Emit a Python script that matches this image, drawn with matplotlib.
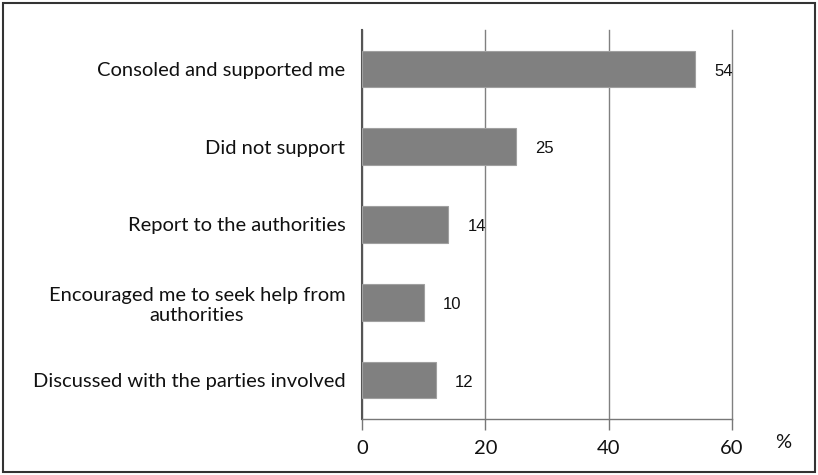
import matplotlib
matplotlib.use('Agg')
import matplotlib.pyplot as plt
from matplotlib.patches import Rectangle

# responses, top to bottom
categories = ['Consoled and supported me',
              'Did not support',
              'Report to the authorities',
              'Encouraged me to seek help from\nauthorities',
              'Discussed with the parties involved']
values = [54, 25, 14, 10, 12]
xticks = [0, 20, 40, 60]

fig = plt.figure(figsize=(8.18, 4.75), dpi=100)
ax = fig.add_axes([0.4425, 0.118, 0.4525, 0.819])

ypos = list(range(len(categories)))
ax.barh(ypos, values, height=0.47, color='#808080', edgecolor='#a0a0a0',
        linewidth=0.8, zorder=3)

# value labels to the right of each bar
for y, v in zip(ypos, values):
    ax.text(v + 3.1, y + 0.03, str(v), va='center', ha='left', fontsize=12,
            family='Liberation Sans', color='#111111')

ax.set_ylim(len(categories) - 0.5, -0.5)
ax.set_xlim(0, 60)
ax.set_yticks(ypos)
ax.set_yticklabels(categories, fontsize=14.5, family='Lato',
                   color='#111111', multialignment='center', linespacing=1.2)
ax.set_xticks(xticks)
ax.set_xticklabels([str(t) for t in xticks], fontsize=14.5, family='Lato',
                   color='#111111')
ax.tick_params(axis='y', length=0, pad=12)
ax.tick_params(axis='x', length=8, width=1, color='#777777', pad=7)

ax.grid(axis='x', color='#808080', linewidth=1, zorder=0)
for gl in ax.get_xgridlines():
    gl.set_clip_on(False)  # keep the line at 60 fully drawn
for s in ['top', 'right']:
    ax.spines[s].set_visible(False)
ax.spines['left'].set_color('#555555')
ax.spines['left'].set_linewidth(1.5)
ax.spines['bottom'].set_color('#777777')
ax.spines['bottom'].set_linewidth(1)

fig.text(783 / 818, 1 - 442 / 475, '%', fontsize=14.5, family='Lato',
         ha='center', va='center', color='#111111')

# thin frame around the whole picture
fig.patches.append(Rectangle((3 / 818, 3 / 475), 812 / 818, 469 / 475,
                             transform=fig.transFigure, fill=False,
                             edgecolor='#333333', linewidth=1.5))

fig.savefig('out.png', dpi=100)
